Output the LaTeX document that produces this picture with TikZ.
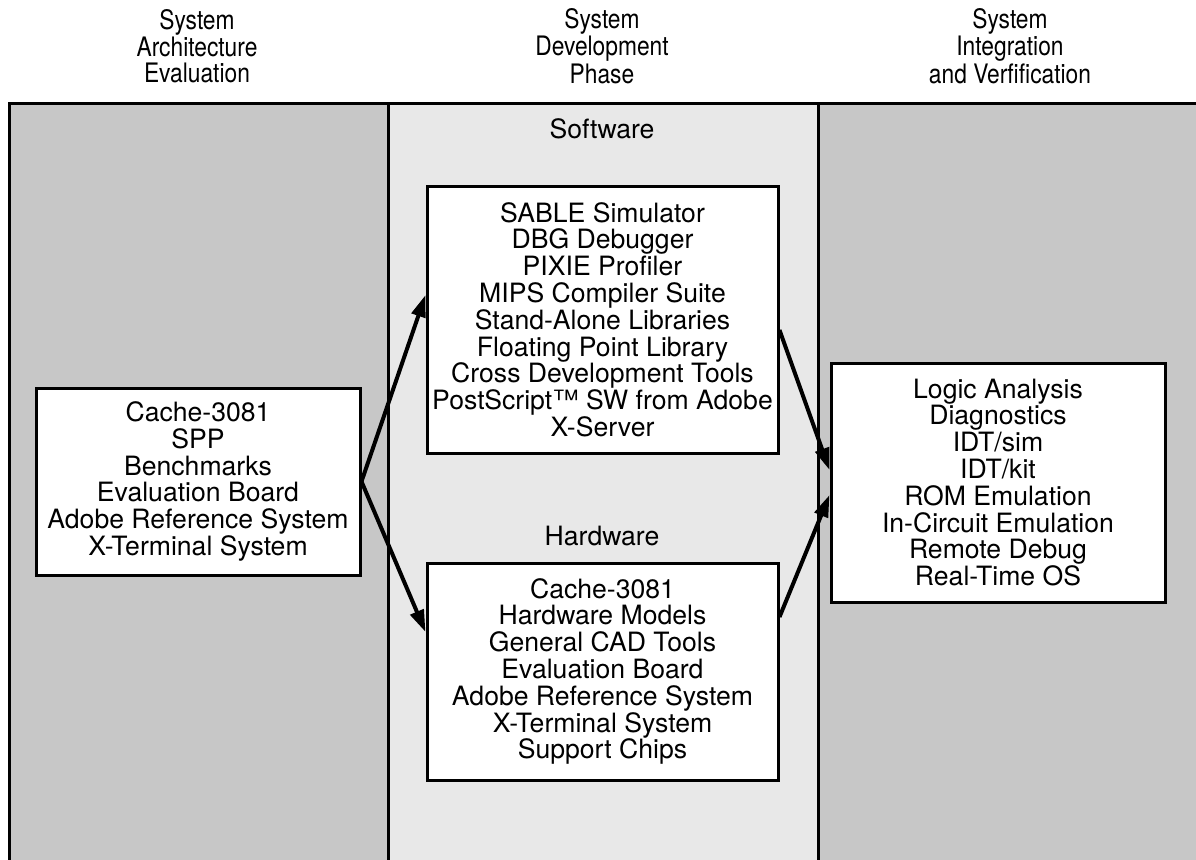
\documentclass[tikz,border=0pt]{standalone}
\usepackage{fontspec}
\setmainfont{TeX Gyre Heros}
\newfontfamily\narrowfont[FakeStretch=0.85]{TeX Gyre Heros}
\usetikzlibrary{arrows.meta,calc}
\begin{document}
\begin{tikzpicture}[x=0.5pt,y=-0.5pt,
  box/.style={draw=black, line width=1.5pt, fill=white, align=center, inner sep=0pt,
    font=\fontsize{13.3}{13.4}\selectfont},
  hdr/.style={align=center, inner sep=0pt, font=\narrowfont\fontsize{13.4}{12.6}\selectfont},
  lbl/.style={inner sep=0pt, font=\fontsize{13.3}{13.4}\selectfont},
  conn/.style={line width=2pt, -{Triangle[length=11pt,width=7pt]}},
  panelline/.style={draw=black, line width=1.5pt}]
\fill[white] (0,0) rectangle (1196,859);
\useasboundingbox (0,0) rectangle (1196,859);
\begin{scope}
\clip (0,0) rectangle (1196,859);
\fill[black!22] (9,103) rectangle (388,900);
\fill[black!9] (388,103) rectangle (818,900);
\fill[black!22] (818,103) rectangle (1220,900);
\draw[panelline] (9,900) -- (9,103) -- (1220,103);
\draw[panelline] (388,103) -- (388,900);
\draw[panelline] (818,103) -- (818,900);
\end{scope}

% headers
\node[hdr] (h1) at (197,46) {System\\Architecture\\Evaluation};
\node[hdr] (h2) at (602,46) {System\\Development\\Phase};
\node[hdr] (h3) at (1010,46) {System\\Integration\\and Verfification};

% labels
\node[lbl] (swl) at (602,129) {Software};
\node[lbl] (hwl) at (602,536) {Hardware};

% boxes
\node[box, minimum width=162pt, minimum height=93.5pt] (L) at (198,481.5)
 {Cache-3081\\SPP\\Benchmarks\\Evaluation Board\\Adobe Reference System\\X-Terminal System};
\node[box, minimum width=175.5pt, minimum height=133.5pt] (S) at (602.5,319.5)
 {SABLE Simulator\\DBG Debugger\\PIXIE Profiler\\MIPS Compiler Suite\\Stand-Alone Libraries\\Floating Point Library\\Cross Development Tools\\PostScript™ SW from Adobe\\X-Server};
\node[box, minimum width=175.5pt, minimum height=108.5pt] (H) at (602.5,671.5)
 {Cache-3081\\Hardware Models\\General CAD Tools\\Evaluation Board\\Adobe Reference System\\X-Terminal System\\Support Chips};
\node[box, minimum width=167pt, minimum height=119.5pt] (R) at (998,482.5)
 {Logic Analysis\\Diagnostics\\IDT/sim\\IDT/kit\\ROM Emulation\\In-Circuit Emulation\\Remote Debug\\Real-Time OS};

% connectors
\coordinate (sIn) at ($(S.west)+(0,-24.5)$);
\coordinate (hIn) at ($(H.west)+(0,-39.5)$);
\coordinate (sOut) at ($(S.east)+(0,10.5)$);
\coordinate (hOut) at ($(H.east)+(0,-54.5)$);
\coordinate (rIn1) at ($(R.west)+(0,-12.5)$);
\coordinate (rIn2) at ($(R.west)+(0,12.5)$);
\draw[conn] (L.east) -- (sIn);
\draw[conn] (L.east) -- (hIn);
\draw[conn] (sOut) -- (rIn1);
\draw[conn] (hOut) -- (rIn2);
\end{tikzpicture}
\end{document}
